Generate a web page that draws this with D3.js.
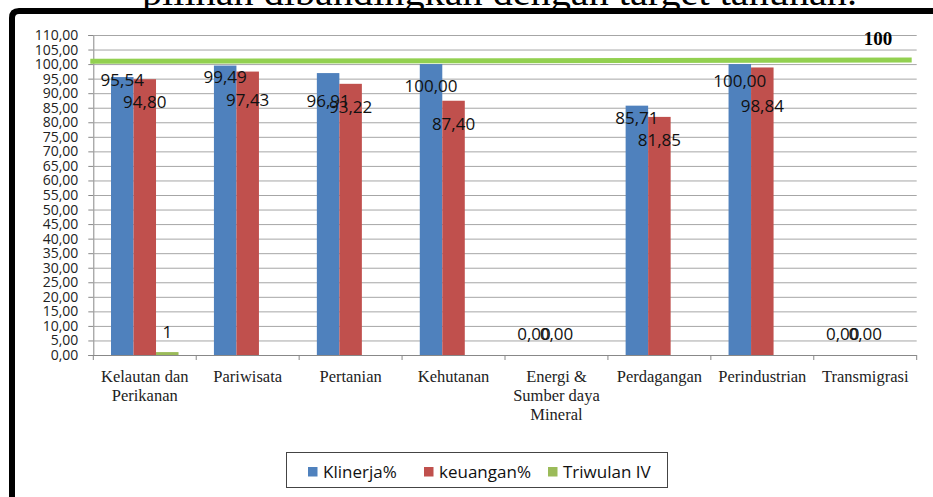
<!DOCTYPE html>
<html>
<head>
<meta charset="utf-8">
<script src="https://cdn.jsdelivr.net/npm/d3@7"></script>
<style>
  html, body { margin: 0; padding: 0; background: #fff; }
  svg { display: block; }
</style>
</head>
<body>
<svg id="chart" width="933" height="497"></svg>
<script>
const categories = ["Kelautan dan\nPerikanan", "Pariwisata", "Pertanian", "Kehutanan",
    "Energi &\nSumber daya\nMineral", "Perdagangan", "Perindustrian", "Transmigrasi"];
const seriesNames = ["Klinerja%", "keuangan%", "Triwulan IV"];
const klinerja = [95.54, 99.49, 96.91, 100.00, 0.00, 85.71, 100.00, 0.00];
const keuangan = [94.80, 97.43, 93.22, 87.40, 0.00, 81.85, 98.84, 0.00];
const triwulan = [1, null, null, null, null, null, null, null];
const targetLevel = [100.95, 101.4];   // hand-drawn green line, left end / right end
const targetLabel = "100";
const yTicks = d3.range(0, 110.001, 5);
const titleText = "pilihan dibandingkan dengan target tahunan.";

const colors = ["#4F81BD", "#C0504D", "#9BBB59"];
// label nudges (px from bar top), the source chart shoved its labels around
const labelShift = [
    [3, 11, 28, 22, -21, 12, 17, -21],
    [23, 28, 23, 23, -21, 23.6, 39, -21],
    [-20, 0, 0, 0, 0, 0, 0, 0]
];

const svg = d3.select("#chart");
const plot = { left: 93.3, right: 916.7, top: 35, bottom: 355 };

const x0 = d3.scaleBand().domain(categories).range([plot.left, plot.right]).padding(0);
const inset = x0.bandwidth() * 0.172;
const x1 = d3.scaleBand().domain(seriesNames).range([inset, x0.bandwidth() - inset]);
const y = d3.scaleLinear().domain([0, 110]).range([plot.bottom, plot.top]);

// title remnant above the frame
svg.append("text")
    .attr("x", 142).attr("y", 4.5)
    .attr("font-family", "Liberation Serif")
    .attr("font-size", 37)
    .attr("textLength", 715)
    .attr("lengthAdjust", "spacingAndGlyphs")
    .attr("fill", "#000")
    .text(titleText);

// gridlines + y axis
const yAxis = svg.append("g")
    .attr("transform", `translate(${plot.left},0)`)
    .call(d3.axisLeft(y).tickValues(yTicks).tickSize(5).tickPadding(10)
        .tickFormat(d => d3.format(".2f")(d).replace(".", ",")));
yAxis.select(".domain").attr("stroke", "#888");
yAxis.selectAll(".tick line").attr("stroke", "#888");
yAxis.selectAll(".tick text")
    .attr("font-family", "Open Sans").attr("font-size", 14).attr("fill", "#222");

svg.append("g").selectAll("line")
    .data(yTicks.filter(d => d > 0))
    .join("line")
    .attr("x1", plot.left).attr("x2", plot.right)
    .attr("y1", d => y(d) + 0.5).attr("y2", d => y(d) + 0.5)
    .attr("stroke", "#a6a6a6").attr("stroke-width", 1);

// x axis
svg.append("line")
    .attr("x1", plot.left).attr("x2", plot.right)
    .attr("y1", plot.bottom + 0.5).attr("y2", plot.bottom + 0.5)
    .attr("stroke", "#888");
svg.append("g").selectAll("line")
    .data(categories.map(c => x0(c)).concat([plot.right]))
    .join("line")
    .attr("x1", d => d).attr("x2", d => d)
    .attr("y1", plot.bottom).attr("y2", plot.bottom + 5)
    .attr("stroke", "#888");

const xLabels = svg.append("g").selectAll("text")
    .data(categories)
    .join("text")
    .attr("x", d => x0(d) + x0.bandwidth() / 2)
    .attr("y", 382)
    .attr("text-anchor", "middle")
    .attr("font-family", "Liberation Serif")
    .attr("font-size", 16.5)
    .attr("fill", "#222");
xLabels.selectAll("tspan")
    .data(d => d.split("\n").map(t => ({ t, c: d })))
    .join("tspan")
    .attr("x", d => x0(d.c) + x0.bandwidth() / 2)
    .attr("dy", (d, i) => i === 0 ? 0 : 19)
    .text(d => d.t);

// bars
const allSeries = [klinerja, keuangan, triwulan];
allSeries.forEach((vals, si) => {
    svg.append("g").selectAll("rect")
        .data(vals.map((v, i) => ({ v, c: categories[i] })).filter(d => d.v != null && d.v > 0))
        .join("rect")
        .attr("x", d => x0(d.c) + x1(seriesNames[si]))
        .attr("y", d => y(d.v))
        .attr("width", x1.bandwidth())
        .attr("height", d => y(0) - y(d.v))
        .attr("fill", colors[si]);
});

// target line
svg.append("line")
    .attr("x1", plot.left - 3).attr("x2", plot.right - 5)
    .attr("y1", y(targetLevel[0])).attr("y2", y(targetLevel[1]))
    .attr("stroke", "#92D050").attr("stroke-width", 5);

svg.append("text")
    .attr("x", 878).attr("y", y(targetLevel[1]) - 15)
    .attr("text-anchor", "middle")
    .attr("font-family", "Liberation Serif")
    .attr("font-weight", "bold")
    .attr("font-size", 19)
    .attr("fill", "#000")
    .text(targetLabel);

// data labels
allSeries.forEach((vals, si) => {
    svg.append("g").selectAll("text")
        .data(vals.map((v, i) => ({ v, i, c: categories[i] })).filter(d => d.v != null))
        .join("text")
        .attr("x", d => x0(d.c) + x1(seriesNames[si]) + x1.bandwidth() / 2)
        .attr("y", d => y(d.v) + labelShift[si][d.i])
        .attr("dy", "0.35em")
        .attr("text-anchor", "middle")
        .attr("font-family", "Open Sans")
        .attr("font-size", 17)
        .attr("fill", "#111")
        .text(d => si === 2 ? String(d.v) : d3.format(".2f")(d.v).replace(".", ","));
});

// legend
const legend = svg.append("g");
legend.append("rect")
    .attr("x", 286.5).attr("y", 452.5).attr("width", 381).attr("height", 35)
    .attr("fill", "#fff").attr("stroke", "#444");
const legendX = [308, 424, 548];
seriesNames.forEach((name, i) => {
    legend.append("rect")
        .attr("x", legendX[i]).attr("y", 467).attr("width", 9.5).attr("height", 9.5)
        .attr("fill", colors[i]);
    legend.append("text")
        .attr("x", legendX[i] + 15).attr("y", 472)
        .attr("dy", "0.35em")
        .attr("font-family", "Open Sans").attr("font-size", 17).attr("fill", "#111")
        .text(name);
});

// black document frame
svg.append("path")
    .attr("d", "M12,497 V18 Q12,11 19,11 H933")
    .attr("fill", "none").attr("stroke", "#000").attr("stroke-width", 6);
</script>
</body>
</html>
